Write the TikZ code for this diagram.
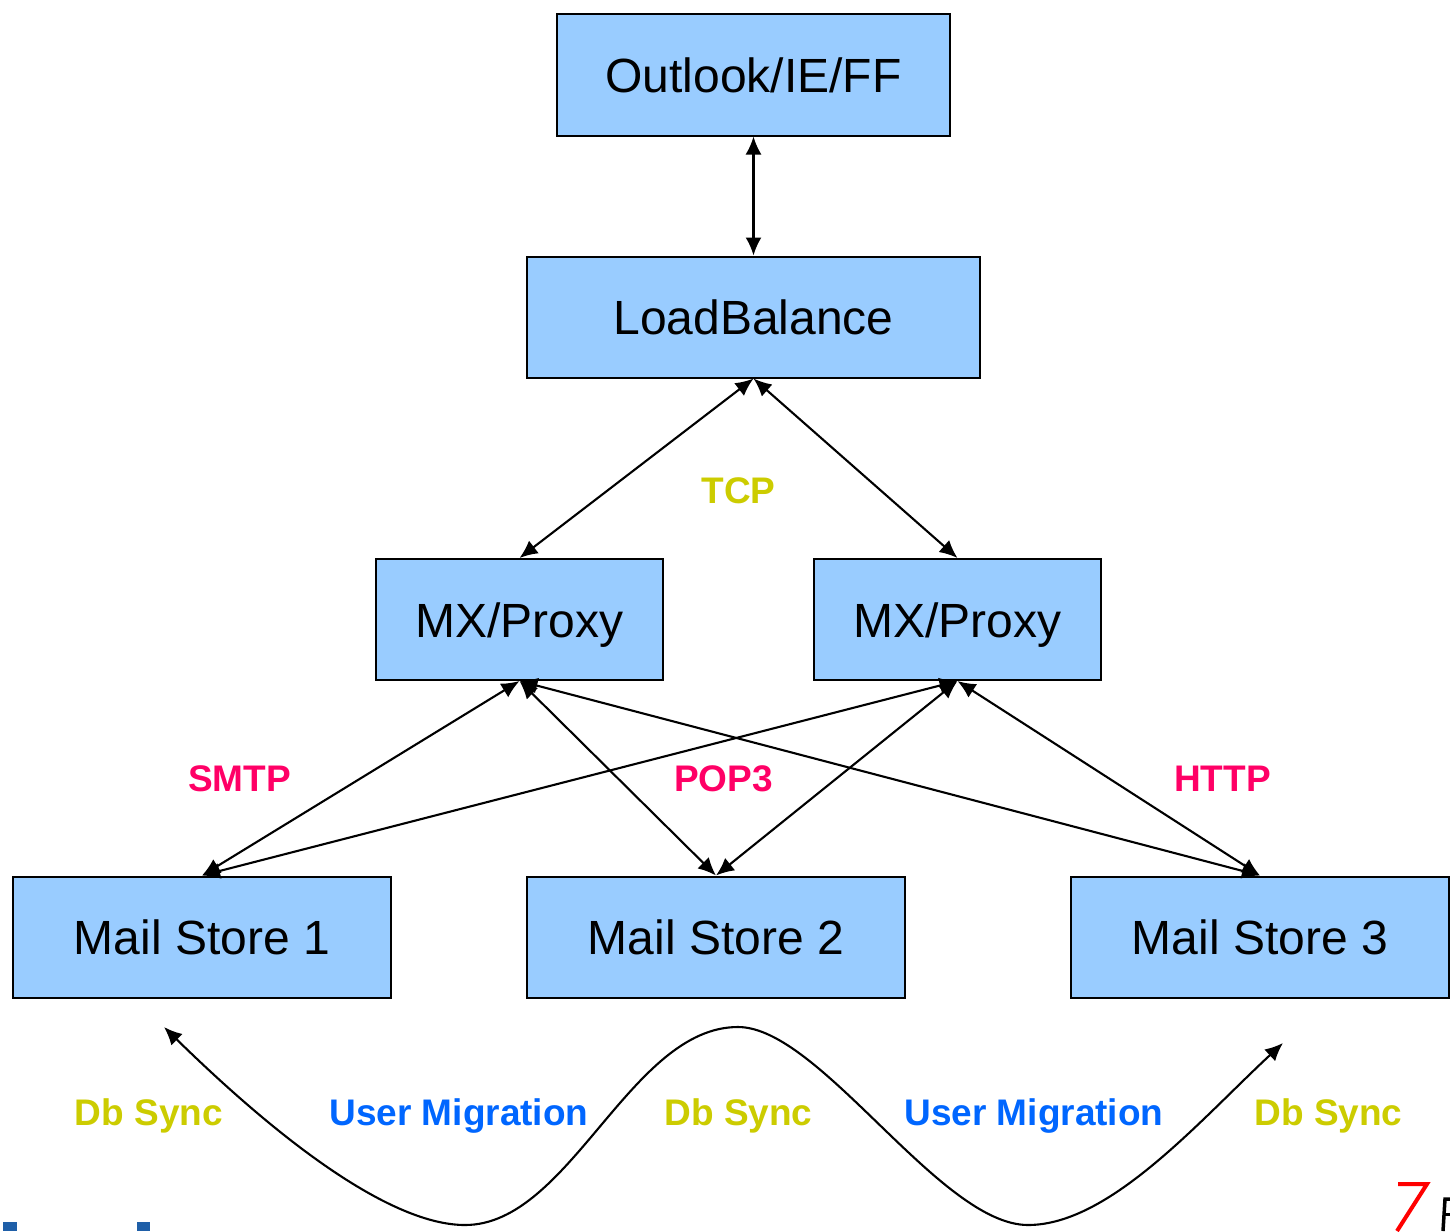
\documentclass[tikz,border=0pt]{standalone}
\usepackage{fontspec}
\setmainfont{Liberation Sans}
\usetikzlibrary{arrows.meta}
\definecolor{boxblue}{HTML}{99CCFF}
\definecolor{labelyellow}{HTML}{CCCC00}
\definecolor{labelpink}{HTML}{FF0066}
\definecolor{labelblue}{HTML}{0066FF}
\definecolor{logoblue}{HTML}{1F5FA8}
\tikzset{
  boxnode/.style={draw=black,line width=2pt,fill=boxblue,inner sep=0pt,minimum height=121pt,
    text height=35.5pt,text depth=0pt,font=\fontsize{48}{50}\selectfont},
  proto/.style={inner sep=0pt,text height=26.5pt,text depth=0pt,font=\fontsize{37}{40}\selectfont\bfseries},
  link/.style={line width=2.1pt,{Latex[length=18pt,width=16pt]}-{Latex[length=18pt,width=16pt]}},
  syncline/.style={line width=2.1pt,{Latex[length=18pt,width=16pt]}-{Latex[length=18pt,width=16pt]}}
}
\begin{document}
\begin{tikzpicture}[x=1pt,y=-1pt]
\useasboundingbox (0,0) rectangle (1450,1231);
\node[boxnode,minimum width=393pt] (client) at (753.5,75) {Outlook/IE/FF};
\node[boxnode,minimum width=453pt] (lb) at (753.5,317) {LoadBalance};
\node[boxnode,minimum width=287pt] (mxa) at (519.5,619.5) {MX/Proxy};
\node[boxnode,minimum width=287pt] (mxb) at (957.5,619.5) {MX/Proxy};
\node[boxnode,minimum width=378pt] (ms1) at (202,937) {Mail Store 1};
\node[boxnode,minimum width=378pt] (ms2) at (716,937) {Mail Store 2};
\node[boxnode,minimum width=378pt] (ms3) at (1260,937) {Mail Store 3};
\draw[link] (client.south) -- (lb.north);
\draw[link] (lb.south) -- (mxa.north);
\draw[link] (lb.south) -- (mxb.north);
\draw[link] (mxa.south) -- (ms1.north);
\draw[link] (mxa.south) -- (ms2.north);
\draw[link] (mxa.south) -- (ms3.north);
\draw[link] (mxb.south) -- (ms1.north);
\draw[link] (mxb.south) -- (ms2.north);
\draw[link] (mxb.south) -- (ms3.north);
\node[proto,text=labelyellow] (tcp) at (738.5,490) {TCP};
\node[proto,text=labelpink] (smtp) at (239.5,778) {SMTP};
\node[proto,text=labelpink] (pop) at (723.5,778) {POP3};
\node[proto,text=labelpink] (http) at (1222.5,778) {HTTP};
\node[proto,text=labelyellow] (dba) at (149,1112) {Db Sync};
\node[proto,text=labelblue] (uma) at (459,1112) {User Migration};
\node[proto,text=labelyellow] (dbb) at (738.5,1112) {Db Sync};
\node[proto,text=labelblue] (umb) at (1034,1112) {User Migration};
\node[proto,text=labelyellow] (dbc) at (1328.5,1112) {Db Sync};
\coordinate (syncstart) at (164,1027);
\coordinate (syncend) at (1283,1043);
\draw[syncline] (syncstart)
  .. controls (300,1160) and (400,1225) .. (465,1225)
  .. controls (570,1225) and (630,1027) .. (738,1027)
  .. controls (820,1027) and (940,1225) .. (1028,1225)
  .. controls (1110,1225) and (1200,1120) .. (syncend);
% cropped logo fragments at the bottom edge
\fill[logoblue] (3,1222) rectangle (17,1231);
\fill[logoblue] (137,1222) rectangle (150,1231);
\draw[red,line width=4pt] (1398,1184) -- (1427,1184) -- (1397,1231);
\draw[black,line width=3.5pt] (1443,1231) -- (1445,1199) -- (1450,1199);
\draw[black,line width=3pt] (1445,1214) -- (1450,1214);
\end{tikzpicture}
\end{document}
